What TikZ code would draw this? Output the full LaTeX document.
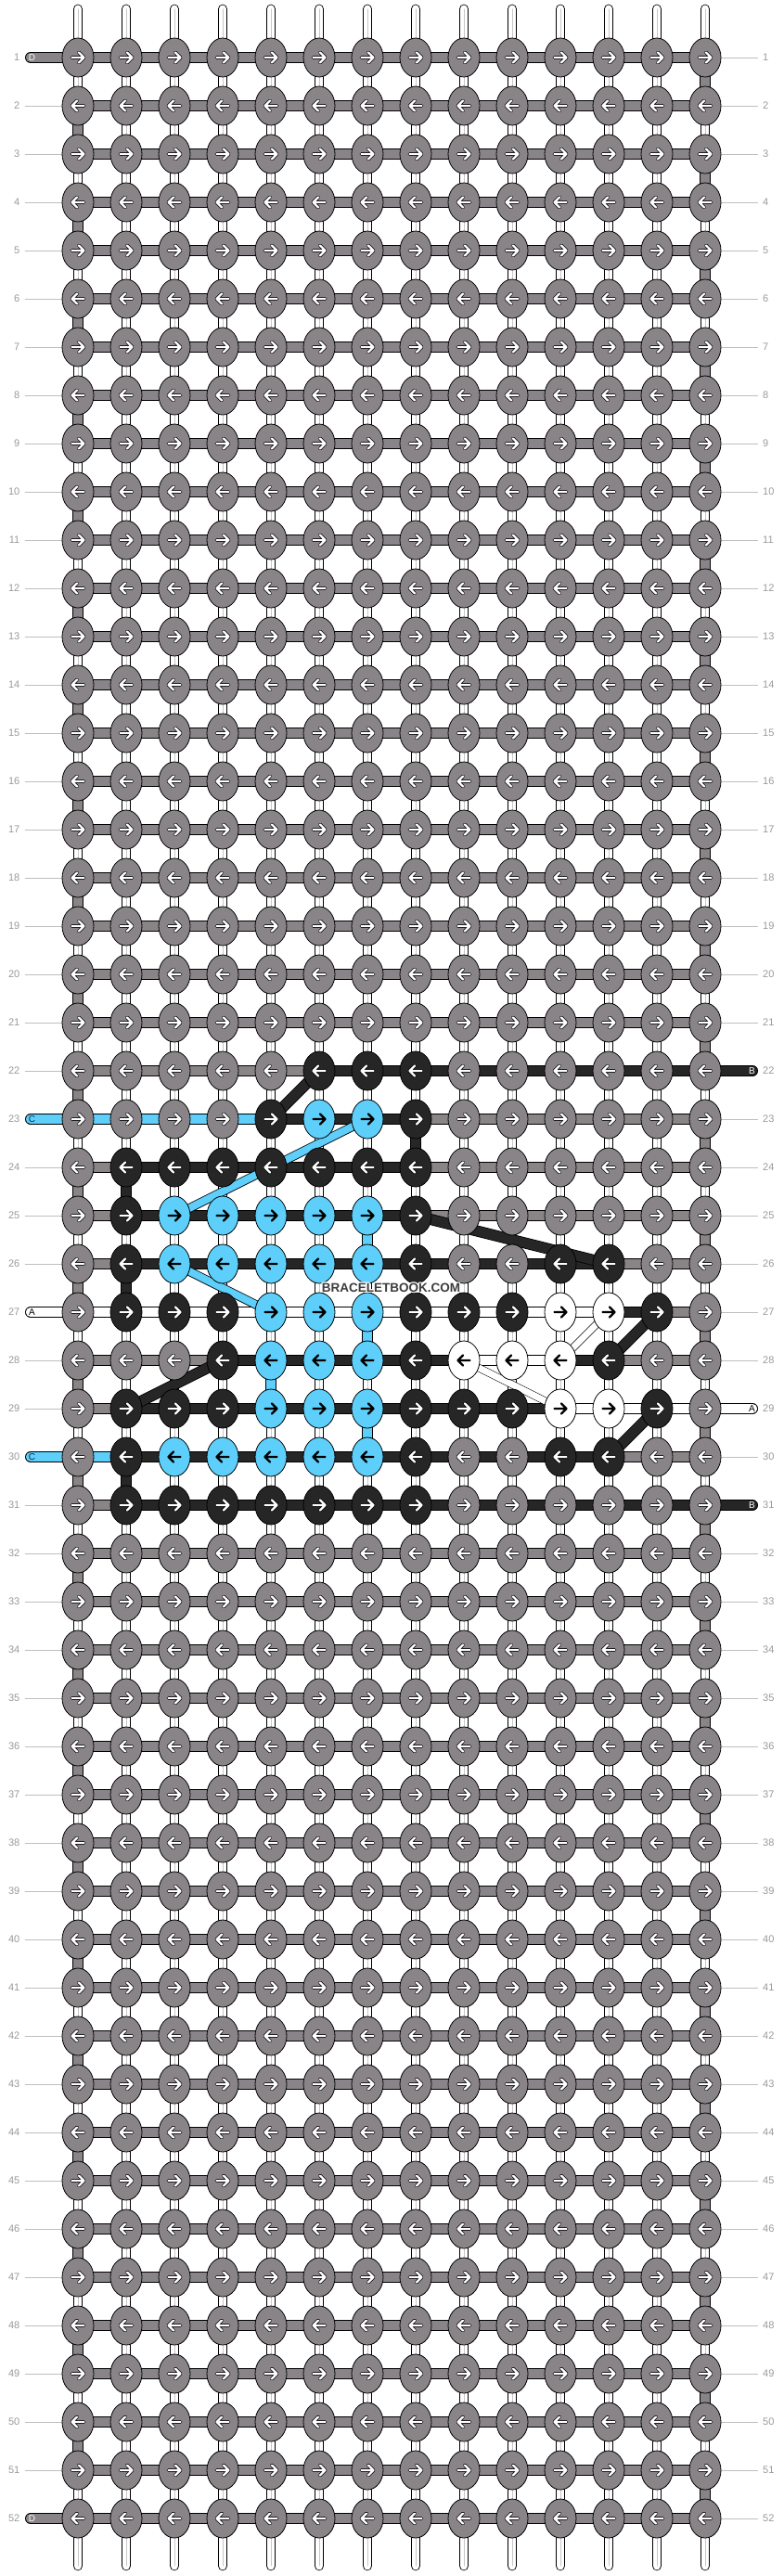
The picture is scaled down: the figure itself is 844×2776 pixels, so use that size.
\documentclass[tikz,border=0pt]{standalone}
\usepackage{fontspec}
\setmainfont{Liberation Sans}
\usetikzlibrary{shapes.geometric}
\pgfdeclarelayer{background}
\pgfsetlayers{background,main}

\definecolor{thrA}{RGB}{255,255,255}
\definecolor{thrB}{RGB}{38,38,38}
\definecolor{thrC}{RGB}{93,207,250}
\definecolor{thrD}{RGB}{137,132,135}
\definecolor{labA}{RGB}{0,0,0}
\definecolor{labB}{RGB}{255,255,255}
\definecolor{labC}{RGB}{20,40,60}
\definecolor{labD}{RGB}{255,255,255}
\definecolor{numgray}{RGB}{153,153,153}

% pattern data: knots, bars, downward links, tails
\newcommand\knotrow[2]{\foreach \kk [count=\ii] in {#2}{\expandafter\xdef\csname kn@#1@\ii\endcsname{\kk}}}
\newcommand\barrow[2]{\foreach \kk [count=\ii] in {#2}{\expandafter\xdef\csname br@#1@\ii\endcsname{\kk}}}
\newcommand\vlink[3]{\expandafter\xdef\csname vl@#1@#2\endcsname{#3}}
\newcommand\tailL[2]{\expandafter\xdef\csname tl@#1\endcsname{#2}}
\newcommand\tailR[2]{\expandafter\xdef\csname tr@#1\endcsname{#2}}
\newcommand\getcol[3]{\ifcsname #2\endcsname\edef#1{\csname #2\endcsname}\else\def#1{#3}\fi}

\knotrow{22}{D,D,D,D,D,B,B,B,D,D,D,D,D,D}
\knotrow{23}{D,D,D,D,B,C,C,B,D,D,D,D,D,D}
\knotrow{24}{D,B,B,B,B,B,B,B,D,D,D,D,D,D}
\knotrow{25}{D,B,C,C,C,C,C,B,D,D,D,D,D,D}
\knotrow{26}{D,B,C,C,C,C,C,B,D,D,B,B,D,D}
\knotrow{27}{D,B,B,B,C,C,C,B,B,B,A,A,B,D}
\knotrow{28}{D,D,D,B,C,C,C,B,A,A,A,B,D,D}
\knotrow{29}{D,B,B,B,C,C,C,B,B,B,A,A,B,D}
\knotrow{30}{D,B,C,C,C,C,C,B,D,D,B,B,D,D}
\knotrow{31}{D,B,B,B,B,B,B,B,D,D,D,D,D,D}

\barrow{22}{D,D,D,D,D,B,B,B,B,B,B,B,B}
\barrow{23}{C,C,C,C,B,B,B,D,D,D,D,D,D}
\barrow{24}{D,B,B,B,B,B,B,D,D,D,D,D,D}
\barrow{25}{D,B,B,B,B,B,B,D,D,D,D,D,D}
\barrow{26}{D,B,B,B,B,B,B,B,B,B,B,D,D}
\barrow{27}{A,A,A,A,A,A,A,A,A,A,A,B,D}
\barrow{28}{D,D,D,B,B,B,B,B,A,A,B,D,D}
\barrow{29}{D,B,B,B,B,B,B,B,B,B,A,A,A}
\barrow{30}{C,B,B,B,B,B,B,B,B,B,B,D,D}
\barrow{31}{D,B,B,B,B,B,B,B,B,B,B,B,B}

\vlink{23}{8}{B}\vlink{24}{2}{B}\vlink{25}{7}{C}\vlink{26}{2}{B}
\vlink{27}{7}{C}\vlink{28}{5}{C}\vlink{29}{7}{C}\vlink{30}{2}{B}

\tailL{1}{D}\tailL{23}{C}\tailL{27}{A}\tailL{30}{C}\tailL{52}{D}
\tailR{22}{B}\tailR{29}{A}\tailR{31}{B}

\tikzset{
  knot/.style={ellipse, draw=black, line width=0.8pt, minimum width=34pt, minimum height=42pt, inner sep=0pt},
  strand/.style={draw=#1, line width=10.4pt, preaction={draw=black, line width=12pt}},
  tail/.style={draw=#1, line width=10.4pt, line cap=round, preaction={draw=black, line width=12pt, line cap=round}},
  diag/.style={draw=#1, line width=8pt, preaction={draw=black, line width=9.6pt}},
  thindiag/.style={draw=white, line width=7pt, preaction={draw=black, line width=8.2pt}},
  string/.style={draw=white, line width=8.8pt, preaction={draw=black, line width=10.4pt}, postaction={draw=black!22, line width=0.8pt}},
  endstring/.style={draw=white, line width=8.8pt, line cap=round, preaction={draw=black, line width=10.4pt, line cap=round}, postaction={draw=black!22, line width=0.8pt}},
  arrlight/.style={draw=white, line width=2.2pt, line cap=round, line join=round, preaction={draw=black, line width=3.8pt, line cap=round, line join=round}},
  arrdark/.style={draw=black, line width=2.2pt, line cap=round, line join=round},
  num/.style={text=numgray, font=\fontsize{11}{13}\selectfont, inner sep=0pt},
  numline/.style={draw=black!25, line width=0.8pt},
  taillab/.style={font=\fontsize{10}{12}\selectfont, inner sep=0pt},
  wmark/.style={font=\fontsize{13.5}{15}\selectfont\bfseries, inner sep=0pt}
}

\begin{document}
\begin{tikzpicture}[x=1pt,y=-1pt]
\useasboundingbox (0,0) rectangle (844,2776);
%KNOTS
\foreach \rr in {1,...,52}{
  \foreach \cc in {1,...,14}{
    \getcol\kc{kn@\rr @\cc}{D}
    \node[knot, fill=thr\kc] (k-\rr-\cc) at ({84+52*(\cc-1)},{62+52*(\rr-1)}) {};
    \ifodd\rr\relax\def\dir{1}\else\def\dir{-1}\fi
    \if\kc A\def\arst{arrdark}\else\if\kc C\def\arst{arrdark}\else\def\arst{arrlight}\fi\fi
    \expandafter\draw\expandafter[\arst, shift={(k-\rr-\cc.center)}, xscale=\dir] (-6.5,0) -- (6.5,0) (1,-5.5) -- (6.5,0) -- (1,5.5);
  }
}
%WATERMARK
\foreach \dx/\dy [count=\hh] in {-1/0,1/0,0/-1,0/1,-1/-1,1/1,-1/1,1/-1}
  \node[wmark, text=white] (wm-\hh) at ({421.5+\dx},{1388+\dy}) {BRACELETBOOK.COM};
\node[wmark, text=thrB!90] (wm) at (421.5,1388) {BRACELETBOOK.COM};

\begin{pgfonlayer}{background}
%STRINGS TOP AND BOTTOM
\foreach \cc in {1,...,14}{
  \coordinate (top-\cc) at ({84+52*(\cc-1)},9.8);
  \coordinate (bot-\cc) at ({84+52*(\cc-1)},2765);
  \draw[endstring] (top-\cc) -- (k-1-\cc.center);
  \draw[endstring] (bot-\cc) -- (k-52-\cc.center);
}
%LINKS DOWN
\foreach \rr in {1,...,51}{
  \pgfmathtruncatemacro\nr{\rr+1}
  \foreach \cc in {1,...,14}{
    \def\vc{S}
    \ifodd\rr\relax\ifnum\cc=14 \def\vc{D}\fi\else\ifnum\cc=1 \def\vc{D}\fi\fi
    \ifcsname vl@\rr @\cc\endcsname\edef\vc{\csname vl@\rr @\cc\endcsname}\fi
    \if\vc S\draw[string] (k-\rr-\cc.center) -- (k-\nr-\cc.center);
    \else\draw[strand=thr\vc] (k-\rr-\cc.center) -- (k-\nr-\cc.center);\fi
  }
}
%BARS
\foreach \rr in {1,...,52}{
  \foreach \ii in {1,...,13}{
    \pgfmathtruncatemacro\jj{\ii+1}
    \getcol\bc{br@\rr @\ii}{D}
    \draw[strand=thr\bc] (k-\rr-\ii.center) -- (k-\rr-\jj.center);
  }
}
%DIAGONALS
\draw[strand=thrB] (k-22-6.center) -- (k-23-5.center);
\draw[diag=thrC] (k-23-7.center) -- (k-25-3.center);
\draw[strand=thrB] (k-25-8.center) -- (k-26-12.center);
\draw[diag=thrC] (k-26-3.center) -- (k-27-5.center);
\draw[thindiag] (k-27-12.center) -- (k-28-11.center);
\draw[thindiag] (k-28-9.center) -- (k-29-11.center);
\draw[strand=thrB] (k-27-13.center) -- (k-28-12.center);
\draw[strand=thrB] (k-28-4.center) -- (k-29-2.center);
\draw[strand=thrB] (k-29-13.center) -- (k-30-12.center);
%ROW NUMBERS AND TAILS
\foreach \rr in {1,...,52}{
  \node[num, anchor=east] (nl-\rr) at (21.5,{62+52*(\rr-1)}) {\rr};
  \node[num, anchor=west] (nr-\rr) at (822,{62+52*(\rr-1)}) {\rr};
  \ifcsname tl@\rr\endcsname
    \edef\tc{\csname tl@\rr\endcsname}
    \coordinate (tl-\rr) at (33,{62+52*(\rr-1)});
    \draw[tail=thr\tc] (tl-\rr) -- (k-\rr-1.center);
    \node[taillab, text=lab\tc] (tll-\rr) at (34.5,{62+52*(\rr-1)}) {\tc};
  \else
    \draw[numline, shorten <=5pt] (nl-\rr.east) -- (k-\rr-1.west);
  \fi
  \ifcsname tr@\rr\endcsname
    \edef\tc{\csname tr@\rr\endcsname}
    \coordinate (tr-\rr) at (811,{62+52*(\rr-1)});
    \draw[tail=thr\tc] (k-\rr-14.center) -- (tr-\rr);
    \node[taillab, text=lab\tc] (trl-\rr) at (810.5,{62+52*(\rr-1)}) {\tc};
  \else
    \draw[numline, shorten >=5pt] (k-\rr-14.east) -- (nr-\rr.west);
  \fi
}
\end{pgfonlayer}
\end{tikzpicture}
\end{document}
